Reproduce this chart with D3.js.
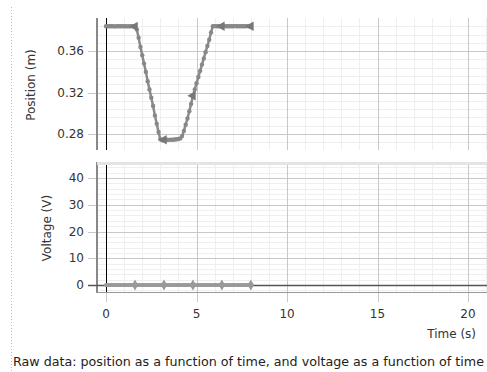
<!DOCTYPE html>
<html>
<head>
<meta charset="utf-8">
<script src="https://cdn.jsdelivr.net/npm/d3@7"></script>
<style>
  body { margin: 0; background: #fff; }
  svg { display: block; font-family: "DejaVu Sans", sans-serif; }
</style>
</head>
<body>
<div id="chart"></div>
<script>
// sample times (s), every 0.1 s from 0 to 8
const time = [
  0.0, 0.1, 0.2, 0.3, 0.4, 0.5, 0.6, 0.7, 0.8, 0.9,
  1.0, 1.1, 1.2, 1.3, 1.4, 1.5, 1.6, 1.7, 1.8, 1.9,
  2.0, 2.1, 2.2, 2.3, 2.4, 2.5, 2.6, 2.7, 2.8, 2.9,
  3.0, 3.1, 3.2, 3.3, 3.4, 3.5, 3.6, 3.7, 3.8, 3.9,
  4.0, 4.1, 4.2, 4.3, 4.4, 4.5, 4.6, 4.7, 4.8, 4.9,
  5.0, 5.1, 5.2, 5.3, 5.4, 5.5, 5.6, 5.7, 5.8, 5.9,
  6.0, 6.1, 6.2, 6.3, 6.4, 6.5, 6.6, 6.7, 6.8, 6.9,
  7.0, 7.1, 7.2, 7.3, 7.4, 7.5, 7.6, 7.7, 7.8, 7.9, 8.0
];
// position (m)
const position = [
  0.384, 0.384, 0.3841, 0.384, 0.384, 0.3839, 0.384, 0.384, 0.384, 0.3841,
  0.384, 0.384, 0.3839, 0.384, 0.384, 0.384, 0.3838, 0.381, 0.373, 0.364,
  0.356, 0.348, 0.340, 0.331, 0.323, 0.315, 0.307, 0.298, 0.290, 0.282,
  0.275, 0.274, 0.2745, 0.2742, 0.2745, 0.2744, 0.2746, 0.2745, 0.2748, 0.275,
  0.2752, 0.2758, 0.278, 0.283, 0.289, 0.295, 0.302, 0.309, 0.317, 0.323,
  0.329, 0.335, 0.341, 0.347, 0.353, 0.359, 0.365, 0.371, 0.378, 0.384,
  0.3842, 0.384, 0.3841, 0.384, 0.384, 0.3842, 0.384, 0.384, 0.3841, 0.384,
  0.384, 0.3842, 0.384, 0.384, 0.3841, 0.384, 0.384, 0.384, 0.3842, 0.384, 0.384
];
// voltage (V)
const voltage = [
  0, 0, 0, 0, 0, 0, 0, 0, 0, 0,
  0, 0, 0, 0, 0, 0, 0, 0, 0, 0,
  0, 0, 0, 0, 0, 0, 0, 0, 0, 0,
  0, 0, 0, 0, 0, 0, 0, 0, 0, 0,
  0, 0, 0, 0, 0, 0, 0, 0, 0, 0,
  0, 0, 0, 0, 0, 0, 0, 0, 0, 0,
  0, 0, 0, 0, 0, 0, 0, 0, 0, 0,
  0, 0, 0, 0, 0, 0, 0, 0, 0, 0, 0
];
// times that carry the big markers
const markTimes = [1.6, 3.2, 4.8, 6.4, 8.0];

const xTicks = [0, 5, 10, 15, 20];
const posTicks = [0.28, 0.32, 0.36];
const voltTicks = [0, 10, 20, 30, 40];

const width = 487, height = 372;
const left = 97, right = 487;

const svg = d3.select("#chart").append("svg")
  .attr("width", width)
  .attr("height", height);

const x = d3.scaleLinear().domain([-0.5, 21.05]).range([left, right]);
const yPos = d3.scaleLinear().domain([0.2646, 0.392]).range([150, 18]);
const yVolt = d3.scaleLinear().domain([-3, 46]).range([293, 162]);

const data = time.map((t, i) => ({ t, p: position[i], v: voltage[i] }));
const marks = data.filter(d => markTimes.some(m => Math.abs(m - d.t) < 1e-6));

// dotted guide on the far left
svg.append("line")
  .attr("x1", 11.5).attr("x2", 11.5).attr("y1", 7).attr("y2", height)
  .attr("stroke", "#bbb").attr("stroke-dasharray", "1,2");

function panel(y, majors, minorStep, top, bottom) {
  const g = svg.append("g");
  const [d0, d1] = y.domain();
  // minor grid
  const xMinor = d3.range(0, 22, 1);
  g.selectAll(".xm").data(xMinor).join("line")
    .attr("x1", d => Math.round(x(d)) + 0.5).attr("x2", d => Math.round(x(d)) + 0.5)
    .attr("y1", top).attr("y2", bottom)
    .attr("stroke", "#efefef");
  const yMinor = d3.range(Math.ceil(d0 / minorStep) * minorStep, d1, minorStep);
  g.selectAll(".ym").data(yMinor).join("line")
    .attr("x1", left).attr("x2", right)
    .attr("y1", d => Math.round(y(d)) + 0.5).attr("y2", d => Math.round(y(d)) + 0.5)
    .attr("stroke", "#efefef");
  // major grid
  g.selectAll(".xM").data(xTicks.slice(1)).join("line")
    .attr("x1", d => Math.round(x(d)) + 0.5).attr("x2", d => Math.round(x(d)) + 0.5)
    .attr("y1", top).attr("y2", bottom)
    .attr("stroke", "#c8c8c8");
  g.selectAll(".yM").data(majors).join("line")
    .attr("x1", left - 9).attr("x2", right)
    .attr("y1", d => Math.round(y(d)) + 0.5).attr("y2", d => Math.round(y(d)) + 0.5)
    .attr("stroke", "#c8c8c8");
  // tick labels
  g.selectAll(".yl").data(majors).join("text")
    .attr("x", 84).attr("y", d => y(d)).attr("dy", "0.35em")
    .attr("text-anchor", "end").attr("font-size", 12).attr("fill", "#333")
    .text(d => y === yPos ? d.toFixed(2) : d);
  // t = 0 line
  g.append("line")
    .attr("x1", Math.round(x(0)) + 0.5).attr("x2", Math.round(x(0)) + 0.5)
    .attr("y1", top).attr("y2", bottom)
    .attr("stroke", "#000");
  // left border
  g.append("line")
    .attr("x1", left).attr("x2", left).attr("y1", top).attr("y2", bottom)
    .attr("stroke", "#888").attr("stroke-width", 2);
  return g;
}

// top panel: position
const gTop = panel(yPos, posTicks, 0.008, 18, 150);
const linePos = d3.line().x(d => x(d.t)).y(d => yPos(d.p));
gTop.append("path").datum(data)
  .attr("d", linePos).attr("fill", "none")
  .attr("stroke", "#8a8a8a").attr("stroke-width", 2.5);
gTop.selectAll(".pp").data(data).join("circle")
  .attr("cx", d => x(d.t)).attr("cy", d => yPos(d.p)).attr("r", 2.2)
  .attr("fill", "#888");
gTop.selectAll(".pm").data(marks).join("path")
  .attr("transform", d => `translate(${x(d.t)},${yPos(d.p)}) rotate(-90)`)
  .attr("d", d3.symbol(d3.symbolTriangle, 40))
  .attr("fill", "#777");
svg.append("text")
  .attr("transform", "translate(35,85) rotate(-90)")
  .attr("text-anchor", "middle").attr("font-size", 12).attr("fill", "#333")
  .text("Position (m)");

// bottom panel: voltage
const gBot = panel(yVolt, voltTicks, 2, 162, 293);
gBot.append("line")
  .attr("x1", left).attr("x2", right).attr("y1", 163.5).attr("y2", 163.5)
  .attr("stroke", "#e4e4e4").attr("stroke-width", 3);
gBot.append("line")
  .attr("x1", left).attr("x2", right).attr("y1", 292.5).attr("y2", 292.5)
  .attr("stroke", "#999");
gBot.append("line")
  .attr("x1", left - 9).attr("x2", right)
  .attr("y1", Math.round(yVolt(0)) + 0.5).attr("y2", Math.round(yVolt(0)) + 0.5)
  .attr("stroke", "#555").attr("stroke-width", 1.5);
const lineVolt = d3.line().x(d => x(d.t)).y(d => yVolt(d.v));
gBot.append("path").datum(data)
  .attr("d", lineVolt).attr("fill", "none")
  .attr("stroke", "#999").attr("stroke-width", 2.5);
gBot.selectAll(".vp").data(data).join("circle")
  .attr("cx", d => x(d.t)).attr("cy", d => yVolt(d.v)).attr("r", 2)
  .attr("fill", "#999");
gBot.selectAll(".vm").data(marks).join("path")
  .attr("transform", d => `translate(${x(d.t)},${yVolt(d.v)})`)
  .attr("d", d3.symbol(d3.symbolDiamond, 36))
  .attr("fill", "#999");
svg.append("text")
  .attr("transform", "translate(51,228) rotate(-90)")
  .attr("text-anchor", "middle").attr("font-size", 12).attr("fill", "#333")
  .text("Voltage (V)");

// x axis
const gx = svg.append("g").attr("transform", "translate(0,293)");
gx.selectAll(".xt").data(xTicks).join("line")
  .attr("x1", d => Math.round(x(d)) + 0.5).attr("x2", d => Math.round(x(d)) + 0.5)
  .attr("y1", 0).attr("y2", 9).attr("stroke", "#c8c8c8");
gx.selectAll(".xl").data(xTicks).join("text")
  .attr("x", d => x(d)).attr("y", 25)
  .attr("text-anchor", "middle").attr("font-size", 12).attr("fill", "#333")
  .text(d => d);
svg.append("text")
  .attr("x", 476).attr("y", 338)
  .attr("text-anchor", "end").attr("font-size", 12).attr("fill", "#333")
  .text("Time (s)");

// caption
svg.append("text")
  .attr("x", 13).attr("y", 366)
  .attr("font-size", 12).attr("fill", "#222")
  .attr("textLength", 471).attr("lengthAdjust", "spacingAndGlyphs")
  .text("Raw data:  position as a function of time, and voltage as a function of time");
</script>
</body>
</html>
